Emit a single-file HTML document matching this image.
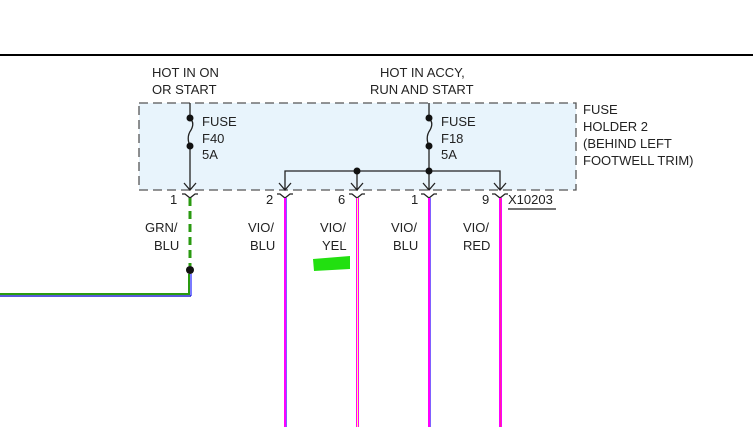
<!DOCTYPE html>
<html><head><style>body{margin:0;background:#fff}svg{display:block}text{font-family:"Liberation Sans",sans-serif;font-size:13px;fill:#222}</style></head>
<body>
<svg width="753" height="427" viewBox="0 0 753 427">
<line x1="0" y1="55" x2="753" y2="55" stroke="#000" stroke-width="2"/>
<rect x="139" y="103" width="437" height="87" fill="#e8f4fc" stroke="#555" stroke-width="1.3" stroke-dasharray="9,5"/>
<text x="152" y="77">HOT IN ON</text><text x="152" y="94">OR START</text>
<text x="380" y="77">HOT IN ACCY,</text><text x="370" y="94">RUN AND START</text>
<text x="583" y="114">FUSE</text><text x="583" y="131">HOLDER 2</text><text x="583" y="148">(BEHIND LEFT</text><text x="583" y="165">FOOTWELL TRIM)</text>
<text x="202" y="126">FUSE</text><text x="202" y="143">F40</text><text x="202" y="159">5A</text>
<text x="441" y="126">FUSE</text><text x="441" y="143">F18</text><text x="441" y="159">5A</text>
<g stroke="#222" stroke-width="1.3" fill="none">
<line x1="190" y1="103" x2="190" y2="118"/><path d="M190 118 q5 5 1 12 q-5 7 -1 16"/><line x1="190" y1="146" x2="190" y2="190"/>
<line x1="429" y1="103" x2="429" y2="118"/><path d="M429 118 q5 5 1 12 q-5 7 -1 16"/><line x1="429" y1="146" x2="429" y2="190"/>
<polyline points="285,190 285,171 500,171 500,190"/><line x1="357" y1="171" x2="357" y2="190"/>
<g>
<polyline points="184,183 190,190 196,183"/><polyline points="279,183 285,190 291,183"/><polyline points="351,183 357,190 363,183"/><polyline points="423,183 429,190 435,183"/><polyline points="494,183 500,190 506,183"/>
</g>
<g>
<path d="M182 194 h3 l5 4 l5 -4 h3"/><path d="M277 194 h3 l5 4 l5 -4 h3"/><path d="M349 194 h3 l5 4 l5 -4 h3"/><path d="M421 194 h3 l5 4 l5 -4 h3"/><path d="M492 194 h3 l5 4 l5 -4 h3"/>
</g>
<line x1="508" y1="209" x2="556" y2="209"/>
</g>
<g fill="#111"><circle cx="190" cy="118" r="3.5"/><circle cx="190" cy="146" r="3.5"/><circle cx="429" cy="118" r="3.5"/><circle cx="429" cy="146" r="3.5"/><circle cx="357" cy="171" r="3.5"/><circle cx="429" cy="171" r="3.5"/><circle cx="190" cy="270" r="4"/></g>
<text x="170" y="204">1</text><text x="266" y="204">2</text><text x="338" y="204">6</text><text x="411" y="204">1</text><text x="482" y="204">9</text><text x="508" y="204">X10203</text>
<text x="145" y="232">GRN/</text><text x="154" y="250">BLU</text>
<text x="248" y="232">VIO/</text><text x="250" y="250">BLU</text>
<text x="320" y="232">VIO/</text><text x="322" y="250">YEL</text>
<text x="391" y="232">VIO/</text><text x="393" y="250">BLU</text>
<text x="463" y="232">VIO/</text><text x="463" y="250">RED</text>
<line x1="190" y1="198" x2="190" y2="266" stroke="#2a9a10" stroke-width="3" stroke-dasharray="8,5"/>
<line x1="191" y1="274" x2="191" y2="296" stroke="#7a7aff" stroke-width="2"/>
<line x1="189" y1="274" x2="189" y2="294" stroke="#2a9a10" stroke-width="2"/>
<line x1="0" y1="296" x2="191" y2="296" stroke="#2222cc" stroke-width="1.5"/>
<line x1="0" y1="294" x2="190" y2="294" stroke="#2a9a10" stroke-width="2"/>
<rect x="284" y="198" width="3" height="229" fill="#ff00ff"/><rect x="286" y="198" width="1" height="229" fill="#8060ff"/>
<rect x="356" y="198" width="3" height="229" fill="#ff00ff"/><rect x="357" y="198" width="1" height="229" fill="#ffff80"/>
<rect x="428" y="198" width="3" height="229" fill="#ff00ff"/><rect x="430" y="198" width="1" height="229" fill="#8060ff"/>
<rect x="499" y="198" width="3" height="229" fill="#ff00ff"/><rect x="500" y="198" width="1" height="229" fill="#ff20a0"/>
<polygon points="313,259 350,256 350,269 314,271" fill="#22e010"/>
</svg>
</body></html>
